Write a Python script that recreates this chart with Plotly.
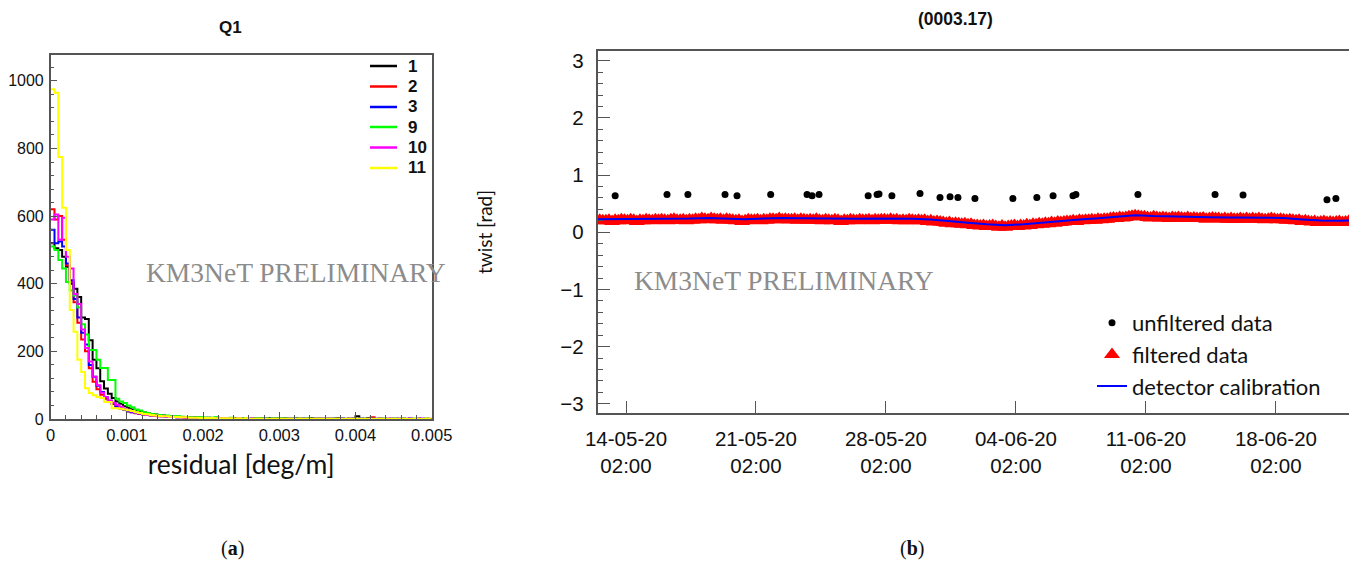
import numpy as np
import pandas as pd
import plotly.graph_objects as go

W, H = 1357, 563          # browser window
OFF = 8                   # page body margin in front of the figure
W_FIG, H_FIG = W - OFF, H - OFF

# ---------------- panel (a): residual histograms ----------------
bin_width = 0.00005
h_1 = [520, 505, 500, 480, 450, 400, 385, 361, 300, 296,
       233, 175, 150, 112, 90, 75, 62, 52, 45, 38,
       33, 28, 25, 22, 19, 17, 15, 13, 12, 10,
       9, 8, 7, 7, 6, 6, 5, 5, 5, 4,
       4, 4, 3, 4, 3, 3, 2, 3, 3, 2,
       2, 3, 2, 2, 2, 1, 2, 2, 1, 2,
       1, 2, 1, 1, 2, 1, 1, 1, 2, 1,
       1, 1, 0, 1, 1, 2, 1, 0, 1, 1,
       8, 0, 1, 3, 1, 0, 1, 1, 0, 1,
       0, 1, 1, 0, 1, 0, 1, 0, 1, 0]
h_2 = [620, 590, 600, 530, 455, 405, 345, 285, 235, 200,
       150, 110, 88, 72, 60, 52, 44, 37, 31, 27,
       22, 20, 17, 15, 13, 12, 10, 9, 8, 8,
       7, 6, 6, 5, 5, 4, 4, 4, 3, 3,
       3, 3, 2, 3, 2, 2, 2, 2, 1, 2,
       2, 1, 2, 1, 1, 2, 1, 1, 1, 1,
       1, 1, 0, 1, 1, 1, 0, 1, 1, 0,
       1, 0, 1, 1, 0, 1, 0, 1, 0, 1,
       0, 1, 0, 1, 5, 0, 1, 0, 1, 0,
       1, 0, 0, 1, 0, 0, 1, 0, 0, 1]
h_3 = [560, 520, 525, 510, 460, 410, 355, 300, 255, 220,
       160, 125, 98, 80, 64, 54, 46, 38, 32, 27,
       23, 20, 18, 16, 14, 12, 11, 10, 9, 8,
       7, 7, 6, 5, 5, 5, 4, 4, 3, 3,
       3, 3, 3, 2, 2, 3, 2, 2, 2, 1,
       2, 1, 2, 1, 1, 1, 2, 1, 1, 1,
       1, 0, 1, 1, 1, 0, 1, 1, 0, 1,
       0, 1, 1, 0, 1, 0, 1, 0, 1, 1,
       0, 1, 0, 0, 1, 0, 1, 0, 0, 1,
       0, 0, 1, 0, 1, 0, 0, 1, 0, 0]
h_9 = [510, 500, 470, 445, 405, 380, 365, 330, 280, 250,
       204, 204, 175, 151, 151, 115, 115, 60, 52, 47,
       40, 35, 28, 25, 20, 18, 15, 13, 12, 10,
       10, 9, 8, 8, 7, 6, 6, 5, 5, 5,
       4, 4, 4, 5, 3, 3, 3, 4, 3, 3,
       2, 3, 2, 2, 3, 2, 2, 1, 2, 2,
       1, 2, 1, 1, 2, 1, 1, 2, 1, 1,
       1, 1, 0, 1, 1, 0, 1, 1, 0, 1,
       1, 0, 1, 0, 1, 1, 0, 1, 0, 0,
       1, 0, 1, 0, 0, 1, 0, 0, 1, 0]
h_10 = [590, 605, 530, 595, 480, 445, 370, 340, 265, 210,
        170, 125, 100, 78, 64, 55, 48, 42, 36, 30,
        26, 22, 19, 16, 14, 12, 11, 10, 8, 8,
        7, 6, 6, 5, 5, 4, 4, 4, 3, 3,
        3, 2, 3, 2, 2, 2, 2, 1, 2, 2,
        1, 1, 2, 1, 1, 1, 1, 0, 1, 1,
        0, 1, 1, 0, 1, 0, 1, 1, 0, 1,
        0, 1, 0, 1, 0, 0, 1, 0, 1, 0,
        1, 0, 0, 1, 0, 1, 0, 0, 1, 0,
        0, 1, 0, 0, 1, 0, 0, 1, 0, 0]
h_11 = [975, 965, 775, 625, 500, 322, 258, 175, 139, 91,
        77, 70, 65, 62, 50, 50, 32, 32, 30, 28,
        26, 24, 20, 18, 15, 14, 12, 10, 9, 8,
        8, 7, 6, 6, 5, 5, 4, 4, 4, 3,
        3, 3, 3, 2, 2, 2, 2, 2, 1, 2,
        1, 2, 1, 1, 1, 1, 1, 0, 1, 1,
        1, 0, 1, 1, 0, 1, 0, 1, 0, 1,
        0, 1, 0, 1, 0, 1, 0, 0, 1, 0,
        1, 0, 0, 1, 0, 0, 1, 0, 0, 1,
        0, 0, 1, 0, 0, 1, 0, 0, 1, 0]
hist_names = ["1", "2", "3", "9", "10", "11"]
hist_values = [h_1, h_2, h_3, h_9, h_10, h_11]
hist_colors = ["#000000", "#ff0000", "#0000ff", "#00ff00", "#ff00ff", "#ffff00"]

# ---------------- panel (b): twist vs time ----------------
filtered_start = "2020-05-12 16:00"
filtered_step = "4h"
filtered_twist = [
    0.21, 0.20,
    0.20, 0.21, 0.19, 0.21, 0.20, 0.22,   # 13-05
    0.21, 0.20, 0.22, 0.21, 0.19, 0.21,
    0.20, 0.22, 0.21, 0.20, 0.22, 0.21,
    0.22, 0.21, 0.20, 0.22, 0.23, 0.21,
    0.21, 0.22, 0.20, 0.22, 0.21, 0.23,
    0.22, 0.24, 0.23, 0.22, 0.24, 0.23,   # 18-05
    0.22, 0.23, 0.21, 0.23, 0.22, 0.21,
    0.20, 0.21, 0.19, 0.20, 0.22, 0.21,
    0.21, 0.22, 0.20, 0.22, 0.21, 0.23,
    0.23, 0.22, 0.24, 0.22, 0.23, 0.22,
    0.22, 0.23, 0.21, 0.23, 0.22, 0.21,   # 23-05
    0.22, 0.21, 0.23, 0.21, 0.20, 0.22,
    0.21, 0.20, 0.22, 0.21, 0.19, 0.21,
    0.20, 0.22, 0.21, 0.20, 0.22, 0.21,
    0.21, 0.22, 0.20, 0.22, 0.21, 0.22,
    0.22, 0.21, 0.23, 0.21, 0.22, 0.20,   # 28-05
    0.21, 0.20, 0.22, 0.21, 0.20, 0.21,
    0.20, 0.21, 0.19, 0.20, 0.18, 0.19,
    0.18, 0.17, 0.16, 0.17, 0.15, 0.16,
    0.15, 0.14, 0.15, 0.13, 0.14, 0.12,   # 01-06
    0.12, 0.11, 0.12, 0.10, 0.11, 0.12,
    0.10, 0.09, 0.11, 0.09, 0.10, 0.11,
    0.12, 0.10, 0.12, 0.11, 0.13, 0.12,
    0.14, 0.13, 0.15, 0.14, 0.16, 0.15,
    0.17, 0.16, 0.18, 0.17, 0.18, 0.19,   # 06-06
    0.19, 0.20, 0.19, 0.21, 0.20, 0.21,
    0.21, 0.22, 0.21, 0.23, 0.22, 0.23,
    0.23, 0.24, 0.25, 0.24, 0.26, 0.25,
    0.26, 0.27, 0.28, 0.29, 0.28, 0.27,
    0.27, 0.26, 0.25, 0.27, 0.26, 0.25,   # 11-06
    0.26, 0.25, 0.24, 0.26, 0.25, 0.26,
    0.25, 0.24, 0.26, 0.24, 0.25, 0.24,
    0.24, 0.25, 0.23, 0.24, 0.25, 0.24,
    0.24, 0.23, 0.24, 0.23, 0.24, 0.23,
    0.23, 0.24, 0.23, 0.24, 0.23, 0.24,   # 16-06
    0.23, 0.24, 0.23, 0.22, 0.23, 0.24,
    0.23, 0.22, 0.23, 0.22, 0.21, 0.22,
    0.21, 0.20, 0.21, 0.19, 0.20, 0.19,
    0.18, 0.19, 0.17, 0.18, 0.19, 0.17,
    0.18, 0.17, 0.18, 0.19, 0.17, 0.18,   # 21-06
    0.19, 0.18,
]
calib_start = "2020-05-12 12:00"
calib_twist = [0.23, 0.23, 0.235, 0.235, 0.24, 0.24, 0.25, 0.245, 0.23, 0.24,
               0.25, 0.245, 0.24, 0.235, 0.235, 0.24, 0.24, 0.235, 0.225, 0.19,
               0.165, 0.14, 0.125, 0.14, 0.17, 0.20, 0.225, 0.245, 0.27, 0.30,
               0.285, 0.275, 0.27, 0.265, 0.26, 0.26, 0.255, 0.25, 0.225, 0.205,
               0.20]
calib_end_times = ["2020-06-22 04:00", "2020-06-22 04:20"]
calib_end_twist = [0.21, 0.0]

unfiltered_times = ["2020-05-13 12:00", "2020-05-16 07:00", "2020-05-17 10:00",
                    "2020-05-19 10:00", "2020-05-20 01:30", "2020-05-21 21:00",
                    "2020-05-23 20:00", "2020-05-24 02:30", "2020-05-24 11:30",
                    "2020-05-27 03:00", "2020-05-27 14:30", "2020-05-27 17:00",
                    "2020-05-28 09:40", "2020-05-29 22:00", "2020-05-30 23:50",
                    "2020-05-31 12:50", "2020-05-31 23:00", "2020-06-01 21:00",
                    "2020-06-03 22:00", "2020-06-05 05:00", "2020-06-06 02:00",
                    "2020-06-07 03:40", "2020-06-07 07:30", "2020-06-10 15:40",
                    "2020-06-14 19:20", "2020-06-16 07:30", "2020-06-20 20:00",
                    "2020-06-21 07:30"]
unfiltered_twist = [0.64, 0.66, 0.66, 0.66, 0.64, 0.66, 0.66, 0.64, 0.66,
                    0.64, 0.66, 0.67, 0.64, 0.68, 0.61, 0.62, 0.61, 0.59,
                    0.59, 0.61, 0.64, 0.64, 0.66, 0.66, 0.66, 0.65, 0.57,
                    0.59]
date_ticks = ["2020-05-14 02:00", "2020-05-21 02:00", "2020-05-28 02:00",
              "2020-06-04 02:00", "2020-06-11 02:00", "2020-06-18 02:00"]


# ---------------- figure ----------------
def px_x(p):
    return (p - OFF) / W_FIG


def px_y(p):
    return 1 - (p - OFF) / H_FIG


fig = go.Figure()

for name, vals, col in zip(hist_names, hist_values, hist_colors):
    edges = np.arange(len(vals) + 1) * bin_width
    fig.add_trace(go.Scatter(
        x=edges, y=list(vals) + [vals[-1]], mode="lines", name=name,
        line=dict(color=col, width=2, shape="hv"),
        xaxis="x", yaxis="y", showlegend=False,
    ))

filtered_times = pd.date_range(filtered_start, periods=len(filtered_twist), freq=filtered_step)
calib_times = list(pd.date_range(calib_start, periods=len(calib_twist), freq="1D").strftime("%Y-%m-%d %H:%M")) + calib_end_times
calib_vals = calib_twist + calib_end_twist

fig.add_trace(go.Scatter(
    x=unfiltered_times, y=unfiltered_twist, mode="markers", name="unfiltered data",
    marker=dict(color="black", size=7, symbol="circle"),
    xaxis="x2", yaxis="y2", legend="legend2", legendgroup="b1",
))
fig.add_trace(go.Scatter(
    x=filtered_times, y=filtered_twist, mode="markers", name="filtered data",
    marker=dict(color="#ff0000", size=14, symbol="triangle-up", line=dict(width=0)),
    xaxis="x2", yaxis="y2", legend="legend2", legendgroup="b2",
))
fig.add_trace(go.Scatter(
    x=calib_times, y=calib_vals, mode="lines", name="detector calibration",
    line=dict(color="#0000ff", width=2),
    xaxis="x2", yaxis="y2", legend="legend2", legendgroup="b3",
))

frame = "#555555"
tickfont_ax = dict(family="Liberation Sans, Arial, sans-serif", size=16.5, color="#111")
tickfont_ay = dict(family="Liberation Sans, Arial, sans-serif", size=16, color="#111")
tickfont_b = dict(family="Liberation Sans, Arial, sans-serif", size=20.5, color="#111")

fig.update_layout(
    width=W_FIG, height=H_FIG, autosize=False,
    margin=dict(l=0, r=0, t=0, b=0, autoexpand=False),
    paper_bgcolor="white", plot_bgcolor="white",
    showlegend=True,
    xaxis=dict(
        domain=[px_x(50.7), px_x(431.7)], range=[0, 0.005], anchor="y",
        automargin=False,
        tickvals=[0, 0.001, 0.002, 0.003, 0.004, 0.005],
        ticktext=["0", "0.001", "0.002", "0.003", "0.004", "0.005"],
        ticks="inside", ticklen=7, tickcolor=frame, tickwidth=1,
        minor=dict(ticks="inside", ticklen=4, dtick=0.0002, tickcolor=frame),
        showline=True, linecolor=frame, linewidth=1.5, mirror=True,
        showgrid=False, zeroline=False, tickfont=tickfont_ax,
        title=dict(text="residual [deg/m]", standoff=13,
                   font=dict(family="Lato, sans-serif", size=26.5, color="#111")),
    ),
    yaxis=dict(
        domain=[px_y(419), px_y(54.5)], range=[0, 1078], anchor="x",
        automargin=False,
        tickvals=[0, 200, 400, 600, 800, 1000],
        ticks="inside", ticklen=7, tickcolor=frame, tickwidth=1,
        minor=dict(ticks="inside", ticklen=4, dtick=40, tickcolor=frame),
        ticklabelstandoff=2,
        showline=True, linecolor=frame, linewidth=1.5, mirror=True,
        showgrid=False, zeroline=False, tickfont=tickfont_ay,
    ),
    xaxis2=dict(
        domain=[px_x(597.5), px_x(1352)], type="date", anchor="y2",
        automargin=False,
        range=["2020-05-12 13:10", "2020-06-22 04:20"],
        tickvals=date_ticks, tickformat="%d-%m-%y<br>%H:%M",
        ticks="inside", ticklen=12, tickcolor=frame, tickwidth=1,
        ticklabelstandoff=7,
        showline=True, linecolor=frame, linewidth=1.5, mirror=True,
        showgrid=False, zeroline=False, tickfont=tickfont_b,
    ),
    yaxis2=dict(
        domain=[px_y(413), px_y(51)], range=[-3.16, 3.17], anchor="x2",
        automargin=False,
        tickvals=[-3, -2, -1, 0, 1, 2, 3],
        ticks="inside", ticklen=13, tickcolor=frame, tickwidth=1,
        minor=dict(ticks="inside", ticklen=6, dtick=0.2, tickcolor=frame),
        ticklabelstandoff=8,
        showline=True, linecolor=frame, linewidth=1.5, mirror=True,
        showgrid=False, zeroline=False, tickfont=tickfont_b,
        title=dict(text="twist [rad]", standoff=63,
                   font=dict(family="Lato, sans-serif", size=19, color="#111")),
    ),
    legend2=dict(
        x=px_x(1092), y=px_y(302), xanchor="left", yanchor="top",
        bgcolor="rgba(0,0,0,0)", borderwidth=0, tracegroupgap=0,
        font=dict(family="Lato, sans-serif", size=22, color="#111"),
        itemwidth=30,
    ),
)

# legend of panel (a), ROOT style (line sample + bold label)
leg_rows_px = [66, 86.5, 107, 127, 147.5, 168]
for name, col, yrow in zip(hist_names, hist_colors, leg_rows_px):
    fig.add_shape(type="line", xref="paper", yref="paper",
                  x0=px_x(370), x1=px_x(397), y0=px_y(yrow), y1=px_y(yrow),
                  line=dict(color=col, width=2.5))
    fig.add_annotation(text="<b>%s</b>" % name, x=px_x(406), y=px_y(yrow),
                       xref="paper", yref="paper", xanchor="left", yanchor="middle",
                       showarrow=False,
                       font=dict(size=17, family="Liberation Sans, Arial, sans-serif", color="#111"))

annots = [
    dict(text="<b>Q1</b>", x=px_x(230), y=px_y(28), size=17, family="Liberation Sans, Arial, sans-serif", color="#111"),
    dict(text="<b>(0003.17)</b>", x=px_x(955), y=px_y(19), size=17.5, family="Liberation Sans, Arial, sans-serif", color="#111"),
    dict(text="KM3NeT PRELIMINARY", x=px_x(296), y=px_y(272), size=27.5, family="Liberation Serif, Times New Roman, serif", color="#8c8c8c"),
    dict(text="KM3NeT PRELIMINARY", x=px_x(784), y=px_y(280), size=27.5, family="Liberation Serif, Times New Roman, serif", color="#8c8c8c"),
    dict(text="(<b>a</b>)", x=px_x(232), y=px_y(548), size=20, family="Liberation Serif, serif", color="#111"),
    dict(text="(<b>b</b>)", x=px_x(912), y=px_y(548), size=20, family="Liberation Serif, serif", color="#111"),
]
for a in annots:
    fig.add_annotation(
        text=a["text"], x=a["x"], y=a["y"], xref="paper", yref="paper",
        xanchor="center", yanchor="middle", showarrow=False,
        font=dict(size=a["size"], family=a["family"], color=a["color"]),
    )

fig.write_html("out.html")
